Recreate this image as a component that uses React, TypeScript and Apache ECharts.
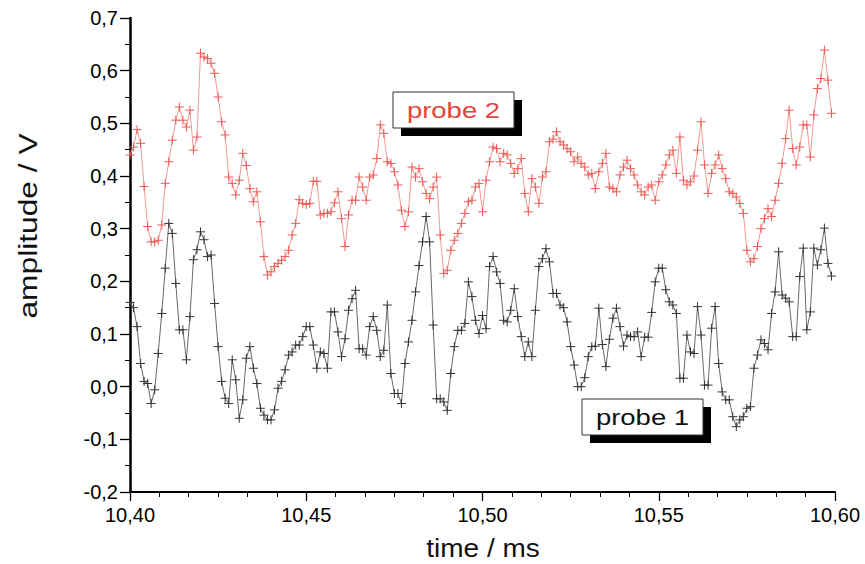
import React, { useEffect, useRef } from "react";
import * as echarts from "echarts";

// time axis: sampled signal, first sample and sample spacing (ms)
const startTime = 10.4;
const sampleStep = 0.001;

const xTicks = [10.4, 10.45, 10.5, 10.55, 10.6];
const yTicks = [-0.2, -0.1, 0, 0.1, 0.2, 0.3, 0.4, 0.5, 0.6, 0.7];

// amplitude / V, probe 2 (red)
const probe2 = [
  0.440, 0.455, 0.488, 0.462, 0.380, 0.304, 0.275, 0.275, 0.278, 0.307,
  0.386, 0.427, 0.468, 0.506, 0.531, 0.506, 0.493, 0.525, 0.449, 0.474,
  0.633, 0.626, 0.623, 0.614, 0.595, 0.550, 0.503, 0.478, 0.398, 0.386,
  0.364, 0.392, 0.443, 0.420, 0.376, 0.351, 0.370, 0.313, 0.247, 0.212,
  0.218, 0.228, 0.234, 0.240, 0.247, 0.259, 0.288, 0.310, 0.355, 0.348,
  0.346, 0.348, 0.390, 0.390, 0.326, 0.329, 0.329, 0.332, 0.349, 0.370,
  0.319, 0.266, 0.326, 0.354, 0.354, 0.398, 0.379, 0.354, 0.398, 0.402,
  0.433, 0.497, 0.481, 0.427, 0.424, 0.408, 0.383, 0.335, 0.304, 0.332,
  0.417, 0.398, 0.414, 0.389, 0.367, 0.357, 0.379, 0.398, 0.288, 0.215,
  0.221, 0.259, 0.278, 0.291, 0.310, 0.329, 0.351, 0.354, 0.379, 0.386,
  0.332, 0.392, 0.427, 0.455, 0.452, 0.427, 0.443, 0.440, 0.424, 0.405,
  0.414, 0.433, 0.367, 0.332, 0.395, 0.379, 0.348, 0.398, 0.408, 0.465,
  0.470, 0.484, 0.465, 0.459, 0.452, 0.446, 0.427, 0.436, 0.424, 0.417,
  0.402, 0.405, 0.376, 0.408, 0.424, 0.443, 0.379, 0.376, 0.370, 0.402,
  0.417, 0.430, 0.414, 0.402, 0.383, 0.370, 0.364, 0.379, 0.383, 0.354,
  0.389, 0.402, 0.421, 0.440, 0.449, 0.405, 0.474, 0.392, 0.383, 0.389,
  0.400, 0.449, 0.503, 0.421, 0.367, 0.405, 0.421, 0.440, 0.414, 0.395,
  0.370, 0.367, 0.360, 0.348, 0.329, 0.259, 0.237, 0.243, 0.266, 0.300,
  0.319, 0.338, 0.323, 0.354, 0.386, 0.424, 0.471, 0.525, 0.452, 0.421,
  0.455, 0.497, 0.497, 0.436, 0.516, 0.566, 0.585, 0.639, 0.582, 0.519,
];

// amplitude / V, probe 1 (black)
const probe1 = [
  0.160, 0.150, 0.114, 0.044, 0.010, 0.006, -0.032, -0.006, 0.063, 0.139,
  0.225, 0.310, 0.291, 0.196, 0.108, 0.108, 0.051, 0.133, 0.241, 0.260,
  0.294, 0.279, 0.247, 0.250, 0.158, 0.076, 0.010, -0.022, -0.032, 0.051,
  0.013, -0.060, -0.025, 0.054, 0.076, 0.035, 0.006, -0.041, -0.054, -0.063,
  -0.063, -0.044, -0.003, 0.010, 0.032, 0.060, 0.066, 0.079, 0.079, 0.095,
  0.114, 0.114, 0.079, 0.035, 0.066, 0.063, 0.035, 0.142, 0.142, 0.104,
  0.057, 0.091, 0.145, 0.167, 0.183, 0.072, 0.072, 0.060, 0.114, 0.133,
  0.107, 0.057, 0.069, 0.155, 0.025, -0.013, -0.013, -0.032, 0.044, 0.085,
  0.126, 0.180, 0.230, 0.275, 0.323, 0.275, 0.117, -0.023, -0.023, -0.029,
  -0.045, 0.025, 0.076, 0.107, 0.107, 0.120, 0.199, 0.171, 0.126, 0.101,
  0.135, 0.110, 0.228, 0.247, 0.218, 0.196, 0.126, 0.123, 0.145, 0.186,
  0.133, 0.095, 0.057, 0.085, 0.057, 0.145, 0.228, 0.243, 0.262, 0.237,
  0.177, 0.177, 0.155, 0.150, 0.123, 0.076, 0.041, 0.000, 0.000, 0.017,
  0.057, 0.076, 0.077, 0.149, 0.080, 0.038, 0.090, 0.130, 0.149, 0.114,
  0.077, 0.098, 0.095, 0.095, 0.104, 0.057, 0.094, 0.094, 0.141, 0.199,
  0.225, 0.225, 0.184, 0.161, 0.155, 0.139, 0.016, 0.016, 0.098, 0.066,
  0.063, 0.152, 0.098, 0.003, 0.003, 0.111, 0.152, 0.044, -0.010, -0.025,
  -0.025, -0.057, -0.076, -0.063, -0.057, -0.041, -0.038, 0.035, 0.060, 0.089,
  0.082, 0.070, 0.139, 0.180, 0.256, 0.174, 0.168, 0.161, 0.095, 0.095,
  0.209, 0.263, 0.108, 0.142, 0.263, 0.231, 0.260, 0.301, 0.234, 0.210,
];

const seriesNames = ["probe 1", "probe 2"];
const axisTitles = { x: "time / ms", y: "amplitude / V" };

const FONT = "'Liberation Sans', Arial, Helvetica, sans-serif";
const PLUS = "path://M0,4L8,4M4,0L4,8";

const toPairs = (vals: number[]) =>
  vals.map((v, i) => [startTime + i * sampleStep, v]);

const labelBox = (
  text: string,
  x: number,
  y: number,
  color: string
) => ({
  type: "group",
  x,
  y,
  children: [
    {
      type: "rect",
      shape: { x: 8, y: 8, width: 121, height: 36 },
      style: { fill: "#000" },
    },
    {
      type: "rect",
      shape: { x: 0, y: 0, width: 121, height: 36 },
      style: { fill: "#fff", stroke: "#333", lineWidth: 1 },
    },
    {
      type: "text",
      x: 60.5,
      y: 18,
      scaleX: 1.25,
      style: {
        text,
        fill: color,
        font: `22px ${FONT}`,
        align: "center",
        verticalAlign: "middle",
        textAlign: "center",
        textVerticalAlign: "middle",
      },
    },
  ],
});

export default function App() {
  const ref = useRef<HTMLDivElement>(null);

  useEffect(() => {
    if (!ref.current) return;
    const chart = echarts.init(ref.current, null, { renderer: "svg" });
    const fmt = (d: number) => (v: number) => v.toFixed(d).replace(".", ",");
    chart.setOption({
      animation: false,
      backgroundColor: "#fff",
      grid: { left: 130, right: 30, top: 18, bottom: 72 },
      xAxis: {
        type: "value",
        min: xTicks[0],
        max: xTicks[xTicks.length - 1],
        interval: 0.05,
        axisLine: { show: true, onZero: false, lineStyle: { color: "#000", width: 2 } },
        axisTick: { show: true, inside: false, length: 9, lineStyle: { color: "#000", width: 1.3 } },
        minorTick: { show: true, splitNumber: 6, length: 5, lineStyle: { color: "#000", width: 1 } },
        splitLine: { show: false },
        axisLabel: {
          formatter: fmt(2),
          color: "#000",
          fontSize: 20,
          fontFamily: FONT,
          margin: 13,
        },
      },
      yAxis: {
        type: "value",
        position: "left",
        min: yTicks[0],
        max: yTicks[yTicks.length - 1],
        interval: 0.1,
        axisLine: { show: true, onZero: false, lineStyle: { color: "#000", width: 2.5 } },
        axisTick: { show: true, inside: false, length: 10, lineStyle: { color: "#000", width: 1.3 } },
        minorTick: { show: true, splitNumber: 2, length: 5, lineStyle: { color: "#000", width: 1 } },
        splitLine: { show: false },
        axisLabel: {
          formatter: fmt(1),
          color: "#000",
          fontSize: 20,
          fontFamily: FONT,
          margin: 12,
        },
      },
      graphic: [
        {
          type: "text",
          x: 483,
          y: 549,
          scaleX: 1.12,
          style: {
            text: axisTitles.x,
            fill: "#111",
            font: `25px ${FONT}`,
            align: "center",
            verticalAlign: "middle",
            textAlign: "center",
            textVerticalAlign: "middle",
          },
        },
        {
          type: "text",
          x: 28,
          y: 226,
          rotation: Math.PI / 2,
          scaleX: 1.22,
          style: {
            text: axisTitles.y,
            fill: "#111",
            font: `26px ${FONT}`,
            align: "center",
            verticalAlign: "middle",
            textAlign: "center",
            textVerticalAlign: "middle",
          },
        },
        labelBox(seriesNames[1], 393, 92, "#e5443a"),
        labelBox(seriesNames[0], 582, 399, "#111"),
      ],
      series: [
        {
          name: seriesNames[0],
          type: "line",
          data: toPairs(probe1),
          symbol: PLUS,
          symbolSize: 9,
          showSymbol: true,
          lineStyle: { color: "#6a6a6a", width: 1 },
          itemStyle: { color: "#333", borderColor: "#333", borderWidth: 1 },
          z: 2,
        },
        {
          name: seriesNames[1],
          type: "line",
          data: toPairs(probe2),
          symbol: PLUS,
          symbolSize: 9,
          showSymbol: true,
          lineStyle: { color: "#f29a96", width: 1 },
          itemStyle: { color: "#ec5a55", borderColor: "#ec5a55", borderWidth: 1 },
          z: 3,
        },
      ],
    });
    return () => chart.dispose();
  }, []);

  return (
    <div
      ref={ref}
      style={{ position: "fixed", left: 0, top: 0, width: 865, height: 564, background: "#fff" }}
    />
  );
}
